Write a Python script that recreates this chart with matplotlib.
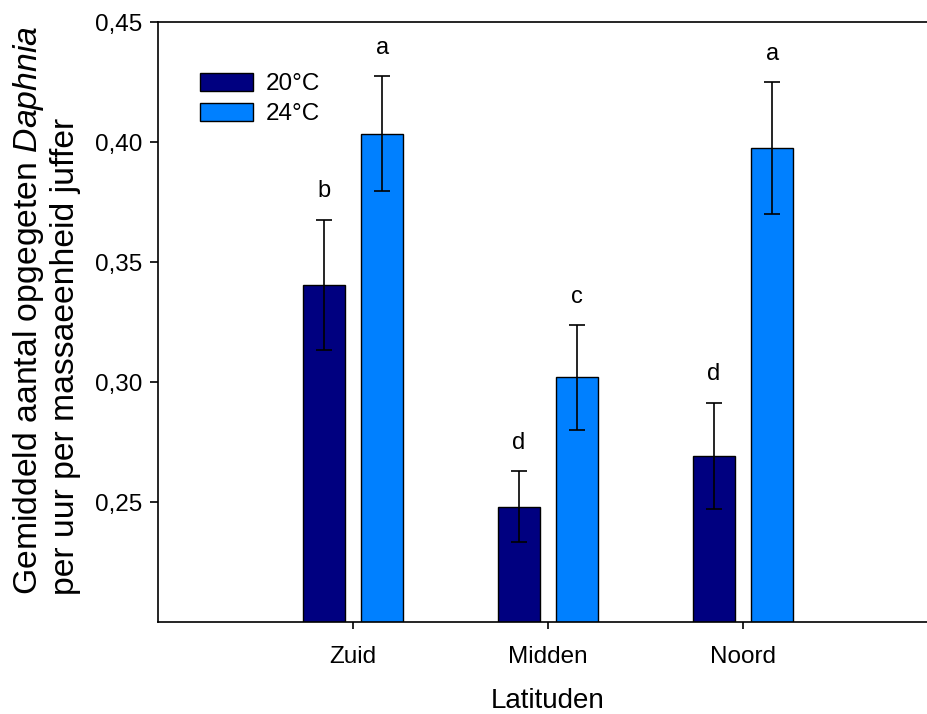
import matplotlib
matplotlib.use("Agg")
import matplotlib.pyplot as plt
import numpy as np

plt.rcParams['font.family'] = ['Liberation Sans', 'DejaVu Sans']
plt.rcParams['mathtext.fontset'] = 'custom'
plt.rcParams['mathtext.it'] = 'Liberation Sans:italic'
plt.rcParams['mathtext.rm'] = 'Liberation Sans'

categories = ['Zuid', 'Midden', 'Noord']
temps = ['20°C', '24°C']
mean_20 = [0.3405, 0.2480, 0.2692]
err_20 = [0.0272, 0.0148, 0.0222]
mean_24 = [0.4035, 0.3020, 0.3975]
err_24 = [0.0240, 0.0218, 0.0275]
letters_20 = ['b', 'd', 'd']
letters_24 = ['a', 'c', 'a']
yticks = [0.25, 0.30, 0.35, 0.40, 0.45]
ytick_labels = ['0,25', '0,30', '0,35', '0,40', '0,45']

fig = plt.figure(figsize=(9.27, 7.14), dpi=100)
ax = fig.add_axes([158/927, 92/714, 782/927, 600/714])

x = np.arange(len(categories))
w = 0.215
off = 0.15
ebkw = dict(ecolor='black', capsize=6, elinewidth=1.2, capthick=1.2)
ax.bar(x - off, mean_20, w, bottom=0, color='#000080', edgecolor='black', linewidth=1,
       yerr=err_20, error_kw=ebkw, label=temps[0], zorder=2)
ax.bar(x + off, mean_24, w, bottom=0, color='#0080FF', edgecolor='black', linewidth=1,
       yerr=err_24, error_kw=ebkw, label=temps[1], zorder=2)

for i in range(len(categories)):
    ax.text(x[i] - off, mean_20[i] + err_20[i] + 0.0072, letters_20[i], ha='center', va='bottom', fontsize=17)
    ax.text(x[i] + off, mean_24[i] + err_24[i] + 0.0072, letters_24[i], ha='center', va='bottom', fontsize=17)

ax.set_ylim(0.20, 0.45)
ax.set_xlim(-1.0, 3.01)
ax.set_yticks(yticks)
ax.set_yticklabels(ytick_labels, fontsize=17.5)
ax.set_xticks(x)
ax.set_xticklabels(categories, fontsize=17.5)
ax.tick_params(axis='y', direction='out', length=6, width=1.2, pad=5)
ax.tick_params(axis='x', direction='out', length=5, width=1.2, pad=12)
ax.spines['right'].set_visible(False)
for s in ['left', 'bottom', 'top']:
    ax.spines[s].set_linewidth(1.2)

fig.text(548/927, 1 - 701/714, 'Latituden', ha='center', va='center', fontsize=20)
fig.text(29/927, (714-595)/714, 'Gemiddeld aantal opgegeten $\\mathit{Daphnia}$',
         rotation=90, ha='center', va='bottom', fontsize=24.3)
fig.text(66/927, (714-595)/714, 'per uur per massaeenheid juffer',
         rotation=90, ha='center', va='bottom', fontsize=24.3)

leg = ax.legend(loc='upper left', bbox_to_anchor=(0.0537, 0.915), frameon=False, fontsize=17.5,
                handlelength=2.2, handleheight=0.74, handletextpad=0.5, labelspacing=0.32,
                borderaxespad=0, borderpad=0)

fig.savefig('out.png', dpi=100)
